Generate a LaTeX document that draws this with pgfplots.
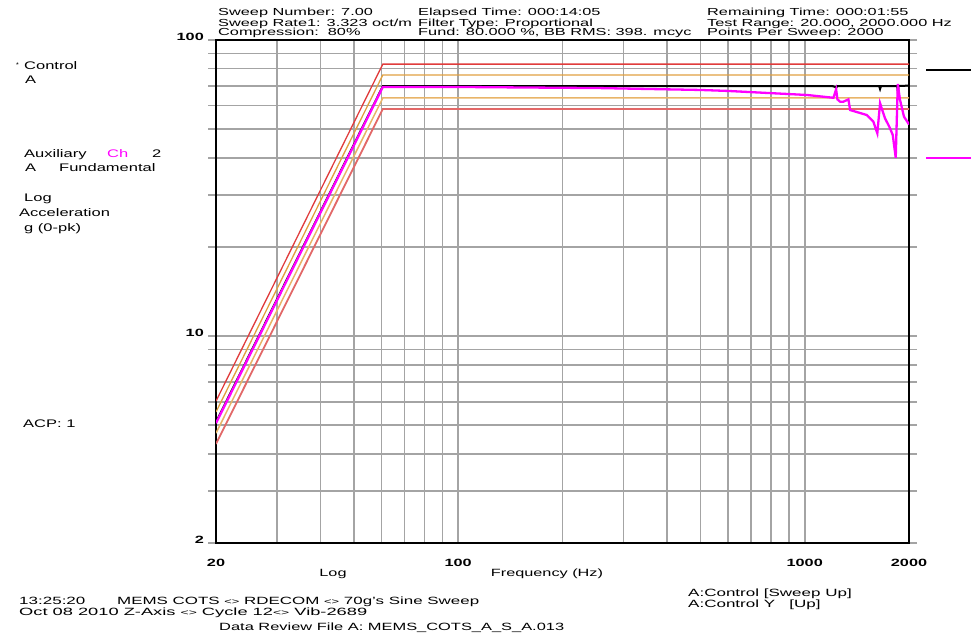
\documentclass[border=0pt]{standalone}
\usepackage{pgfplots}
\pgfplotsset{compat=1.18}
\usepackage{graphicx}
\usepackage{fontspec}
\setmainfont{Liberation Sans}
\definecolor{mag}{HTML}{FF00FF}
\definecolor{tolred}{HTML}{E03C3C}
\definecolor{tolorange}{HTML}{E0A040}
\definecolor{tolorangeL}{HTML}{E8B468}
\definecolor{tolredL}{HTML}{E26868}
\definecolor{gridgray}{HTML}{A4A4A4}
\newcommand{\HS}[1]{\scalebox{1.6}[1]{#1}}
\newcommand{\LS}[1]{\scalebox{1.5}[1]{#1}}
\newcommand{\BS}[1]{\scalebox{1.62}[1]{#1}}
\newcommand{\TS}[1]{\scalebox{1.55}[1]{#1}}
\newcommand{\RB}[2]{\resizebox{#1pt}{\height}{#2}}
\newcommand{\sm}{{\fontsize{8}{8}\selectfont<>}}
\newcommand{\hfont}{\fontsize{10.2}{11}\selectfont}
\newcommand{\lfont}{\fontsize{11}{12}\selectfont}
\newcommand{\bfont}{\fontsize{10.5}{12}\selectfont}
\newcommand{\tfont}{\fontsize{10.5}{12}\selectfont\bfseries}

\pgfplotstableread{
f v
20 6.03
60.6 82.9
2000 82.9
}\tolup
\pgfplotstableread{
f v
20 5.54
60.6 76.2
2000 76.2
}\tolupin
\pgfplotstableread{
f v
20 4.70
60.6 63.7
2000 63.7
}\tollowin
\pgfplotstableread{
f v
20 4.32
60.6 58.5
2000 58.5
}\tollow
\pgfplotstableread{
f v
20 5.12
60.6 69.8
400 69.9
1200 69.9
1225 69.4
1232 68.8
1240 69.9
1640 69.9
1650 68.3
1660 69.9
1850 69.9
1857 66.7
1866 70.0
2000 70.1
}\control
\pgfplotstableread{
f v
20 5.08
60.6 69.4
100 69.4
257 68.8
500 67.8
598 67.3
1016 65.2
1210 63.8
1232 68.1
1243 63.0
1265 61.9
1293 61.9
1337 63.0
1352 58.0
1510 55.8
1578 53.0
1620 48.4
1650 61.1
1705 54.4
1755 50.9
1795 47.8
1831 40.0
1856 71.0
1884 62.7
1934 55.1
1991 52.3
2000 51.8
}\aux

\begin{document}
\begin{tikzpicture}[x=1pt,y=1pt]
\path[use as bounding box] (0,0) rectangle (971,634);
\begin{axis}[
  at={(216pt,91pt)}, anchor=south west,
  scale only axis, width=693pt, height=503pt,
  xmode=log, ymode=log,
  xmin=20, xmax=2000, ymin=2, ymax=100,
  xtick={20,30,40,50,60,70,80,90,100,200,300,400,500,600,700,800,900,1000,2000},
  xticklabels={\TS{20},,,,,,,,\TS{100},,,,,,,,,\TS{1000},\TS{2000}},
  ytick={2,3,4,5,6,7,8,9,10,20,30,40,50,60,70,80,90,100},
  yticklabels={\TS{2},,,,,,,,\TS{10},,,,,,,,,\TS{100}},
  xmajorgrids, ymajorgrids,
  major grid style={gridgray, line width=1.6pt},
  tick align=outside,
  major tick length=8pt,
  xtick style={draw=none},
  ytick style={gridgray, line width=1.6pt},
  axis line style={black, line width=2.8pt},
  xticklabel style={font=\tfont, anchor=north, inner sep=0pt, yshift=-8pt},
  yticklabel style={font=\tfont, anchor=east, inner sep=0pt, xshift=-4pt, yshift=3pt},
]
\addplot[tolred, line width=1.3pt] table[x=f,y=v] {\tolup};
\addplot[tolorange, line width=1.3pt] table[x=f,y=v] {\tolupin};
\addplot[tolorangeL, line width=1.5pt] table[x=f,y=v] {\tollowin};
\addplot[tolredL, line width=1.8pt] table[x=f,y=v] {\tollow};
\addplot[black, line width=2pt] table[x=f,y=v] {\control};
\addplot[mag, line width=2.3pt] table[x=f,y=v] {\aux};
\end{axis}

% legend markers at right
\draw[black, line width=2pt] (926,564) -- (971,564);
\draw[mag, line width=2.3pt] (926,476) -- (971,476);

% header
\begin{scope}[every node/.style={anchor=base west, inner sep=0pt, font=\hfont}]
\node at (218,618.3) {\HS{Sweep Number: 7.00}};
\node at (218,607.3) {\HS{Sweep Rate1: 3.323 oct/m}};
\node at (218,598.0) {\HS{Compression:\ \ 80\%}};
\node at (418,618.3) {\HS{Elapsed Time: 000:14:05}};
\node at (418,607.3) {\HS{Filter Type: Proportional}};
\node at (418,598.0) {\HS{Fund: 80.000 \%, BB RMS: 398. mcyc}};
\node at (707,618.3) {\HS{Remaining Time: 000:01:55}};
\node at (707,607.3) {\HS{Test Range: 20.000, 2000.000 Hz}};
\node at (707,598.0) {\HS{Points Per Sweep: 2000}};
\end{scope}

% left labels
\begin{scope}[every node/.style={anchor=base west, inner sep=0pt, font=\lfont}]
\node at (16,566) {\fontsize{7}{8}\selectfont *};
\node at (24,564) {\LS{Control}};
\node at (25,550) {\LS{A}};
\node at (24,476) {\LS{Auxiliary}};
\node at (107,476) {\LS{\textcolor{mag}{Ch}}};
\node at (152,476) {\LS{2}};
\node at (25,462) {\LS{A}};
\node at (59,462) {\LS{Fundamental}};
\node at (24,432) {\LS{Log}};
\node at (19,417) {\LS{Acceleration}};
\node at (24,402) {\LS{g (0-pk)}};
\node at (23,206) {\LS{ACP:\ 1}};
\end{scope}

% axis labels
\begin{scope}[every node/.style={anchor=base, inner sep=0pt, font=\bfont}]
\node at (333,57) {\TS{Log}};
\node at (547,57) {\TS{Frequency (Hz)}};
\end{scope}

% bottom
\begin{scope}[every node/.style={anchor=base west, inner sep=0pt, font=\bfont}]
\node at (19,29) {\BS{13:25:20}};
\node at (117,29) {\RB{362}{MEMS COTS \sm\ RDECOM \sm\ 70g's Sine Sweep}};
\node at (19,18) {\RB{348}{Oct 08 2010 Z-Axis \sm\ Cycle 12\sm\ Vib-2689}};
\node at (219,3) {\RB{345}{Data Review File A: MEMS\_COTS\_A\_S\_A.013}};
\node at (688,37) {\BS{A:Control [Sweep Up]}};
\node at (688,26) {\BS{A:Control Y\ \ \ [Up]}};
\end{scope}
\end{tikzpicture}
\end{document}
